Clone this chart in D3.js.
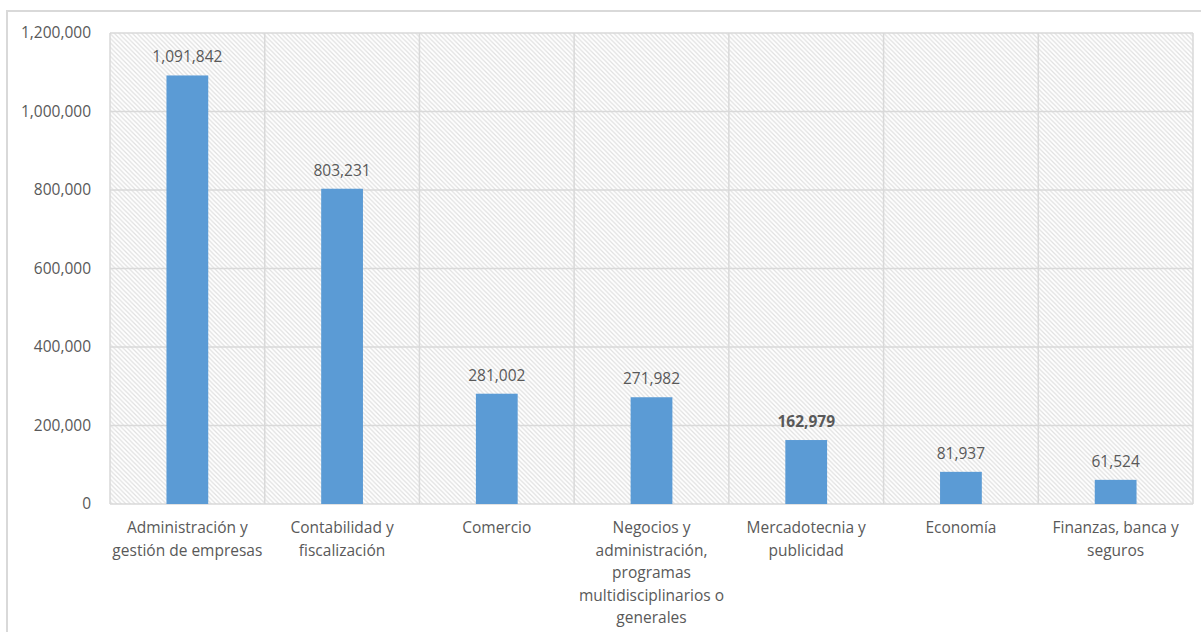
<!DOCTYPE html>
<html>
<head>
<meta charset="utf-8">
<script src="https://cdn.jsdelivr.net/npm/d3@7"></script>
<style>
  html, body { margin: 0; padding: 0; background: #fff; }
  svg { display: block; }
  text { font-family: "Open Sans", sans-serif; fill: #595959; }
</style>
</head>
<body>
<svg id="chart" width="1201" height="632"></svg>
<script>
const categories = [
  ["Administración y", "gestión de empresas"],
  ["Contabilidad y", "fiscalización"],
  ["Comercio"],
  ["Negocios y", "administración,", "programas", "multidisciplinarios o", "generales"],
  ["Mercadotecnia y", "publicidad"],
  ["Economía"],
  ["Finanzas, banca y", "seguros"]
];
const values = [1091842, 803231, 281002, 271982, 162979, 81937, 61524];
const boldLabels = [false, false, false, false, true, false, false];
const yTicks = [0, 200000, 400000, 600000, 800000, 1000000, 1200000];

const svg = d3.select("#chart");
const margin = { left: 110, top: 33, right: 1193, bottom: 504 };

// outer chart border
svg.append("rect")
  .attr("x", 7).attr("y", 11).attr("width", 1220).attr("height", 660)
  .attr("fill", "#fff").attr("stroke", "#d9d9d9").attr("stroke-width", 2);

// hatch pattern
const defs = svg.append("defs");
const pat = defs.append("pattern")
  .attr("id", "hatch").attr("patternUnits", "userSpaceOnUse")
  .attr("width", 4.5).attr("height", 4.5);
pat.append("rect").attr("width", 4.5).attr("height", 4.5).attr("fill", "#fff");
pat.append("path")
  .attr("d", "M0,0 L4.5,4.5 M-1,3.5 L1,5.5 M3.5,-1 L5.5,1")
  .attr("stroke", "#e0e0e0").attr("stroke-width", 1.2);

const x = d3.scaleBand()
  .domain(d3.range(categories.length))
  .range([margin.left, margin.right])
  .paddingInner(0.73).paddingOuter(0.365);

const y = d3.scaleLinear().domain([0, 1200000]).range([margin.bottom, margin.top]);

// plot area background
svg.append("rect")
  .attr("x", margin.left).attr("y", margin.top)
  .attr("width", margin.right - margin.left).attr("height", margin.bottom - margin.top)
  .attr("fill", "url(#hatch)");

// horizontal gridlines
svg.append("g").selectAll("line").data(yTicks).join("line")
  .attr("x1", margin.left).attr("x2", margin.right)
  .attr("y1", d => y(d)).attr("y2", d => y(d))
  .attr("stroke", "#d9d9d9").attr("stroke-width", 1.5);

// vertical dividers
const bounds = d3.range(categories.length + 1).map(i => margin.left + i * (margin.right - margin.left) / categories.length);
svg.append("g").selectAll("line").data(bounds).join("line")
  .attr("x1", d => d).attr("x2", d => d)
  .attr("y1", margin.top).attr("y2", margin.bottom)
  .attr("stroke", "#d9d9d9").attr("stroke-width", 1.5);

// y axis labels
const fmt = d3.format(",");
const yAxis = d3.axisLeft(y).tickValues(yTicks).tickFormat(fmt).tickSize(0).tickPadding(19);
const gy = svg.append("g").attr("transform", `translate(${margin.left},0)`).call(yAxis);
gy.select(".domain").remove();
gy.selectAll("text").style("font-family", "'Open Sans', sans-serif").style("font-size", "15.5px").attr("fill", "#595959");

// bars
svg.append("g").selectAll("rect").data(values).join("rect")
  .attr("x", (d, i) => x(i)).attr("width", x.bandwidth())
  .attr("y", d => y(d)).attr("height", d => y(0) - y(d))
  .attr("fill", "#5b9bd5");

// value labels
svg.append("g").selectAll("text").data(values).join("text")
  .attr("x", (d, i) => x(i) + x.bandwidth() / 2)
  .attr("y", d => y(d) - 13)
  .attr("text-anchor", "middle")
  .style("font-size", "15.5px")
  .style("font-weight", (d, i) => boldLabels[i] ? "bold" : "normal")
  .attr("fill", (d, i) => boldLabels[i] ? "#404040" : "#595959")
  .text(d => fmt(d));

// category labels
const cl = svg.append("g").selectAll("text").data(categories).join("text")
  .attr("text-anchor", "middle")
  .style("font-size", "15.5px")
  .attr("transform", (d, i) => `translate(${x(i) + x.bandwidth() / 2},533)`);
cl.selectAll("tspan").data(d => d).join("tspan")
  .attr("x", 0).attr("y", (d, j) => j * 22.5)
  .text(d => d);
</script>
</body>
</html>
